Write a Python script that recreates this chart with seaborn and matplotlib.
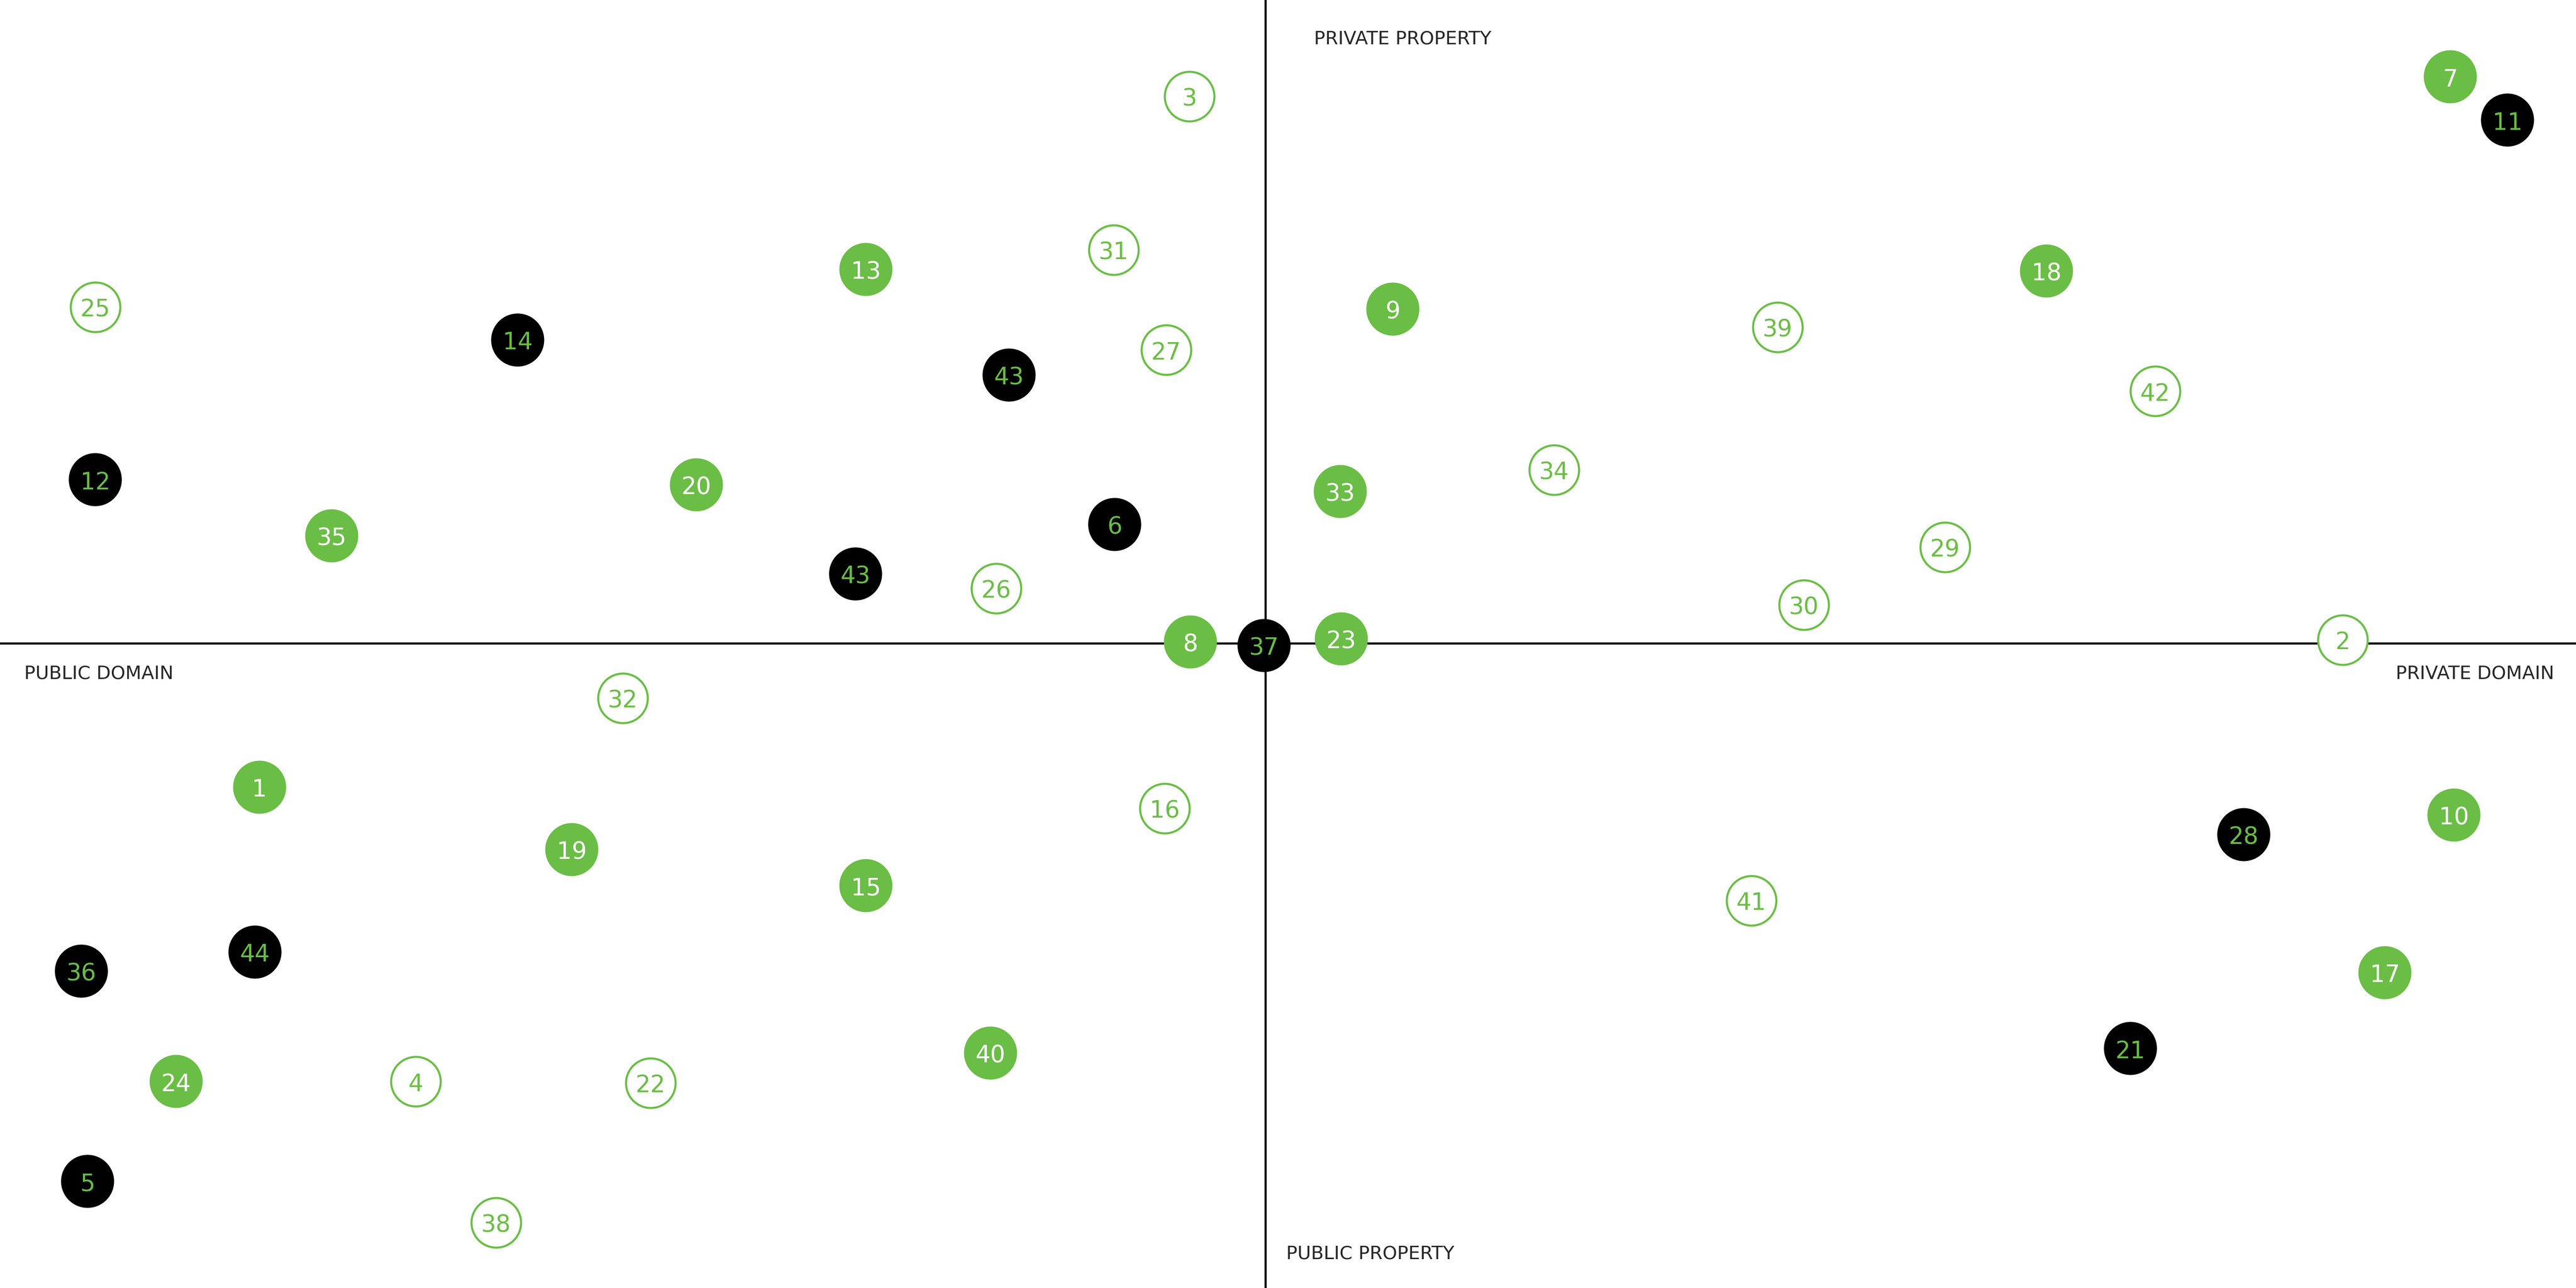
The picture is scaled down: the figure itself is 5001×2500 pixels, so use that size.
import pandas as pd
import seaborn as sns
from matplotlib import pyplot

# positions, origin at the crossing of the two axes
hollow_labels = ["3", "31", "27", "25", "26", "32", "16", "4", "22", "38",
                 "39", "42", "34", "29", "30", "2", "41"]
hollow_x = [-1.48, -2.95, -1.93, -22.72, -5.23, -12.48, -1.96, -16.50, -11.94, -14.94,
            9.94, 17.27, 5.60, 13.19, 10.45, 20.91, 9.43]
hollow_y = [10.62, 7.64, 5.70, 6.53, 1.07, -1.06, -3.20, -8.50, -8.53, -11.24,
            6.14, 4.90, 3.37, 1.87, 0.75, 0.07, -4.99]

green_labels = ["13", "20", "35", "8", "1", "19", "15", "24", "40",
                "9", "18", "33", "23", "7", "10", "17"]
green_x = [-7.76, -11.05, -18.13, -1.46, -19.53, -13.47, -7.76, -21.15, -5.34,
           2.47, 15.16, 1.45, 1.47, 23.00, 23.07, 21.73]
green_y = [7.26, 3.08, 2.09, 0.03, -2.79, -4.00, -4.70, -8.50, -7.95,
           6.49, 7.23, 2.95, 0.09, 11.00, -3.33, -6.39]

black_labels = ["14", "43", "12", "43", "6", "37", "36", "44", "5", "11", "28", "21"]
black_x = [-14.52, -4.98, -22.72, -7.96, -2.93, -0.03, -22.99, -19.62, -22.87,
           24.11, 18.99, 16.79]
black_y = [5.89, 5.21, 3.18, 1.35, 2.31, -0.04, -6.36, -5.99, -10.44,
           10.16, -3.71, -7.86]

axis_labels = ["PRIVATE PROPERTY", "PUBLIC PROPERTY", "PUBLIC DOMAIN", "PRIVATE DOMAIN"]

GREEN = "#6abd45"

sns.set_style("white")
pyplot.rcParams["font.family"] = ["DejaVu Sans"]

fig = pyplot.figure(figsize=(50.01, 25), dpi=100)
ax = fig.add_axes([0, 0, 1, 1])
ax.set_xlim(-24.57, 25.44)
ax.set_ylim(-12.51, 12.49)
ax.set_axis_off()

ax.axhline(0, color="black", linewidth=3, zorder=1)
ax.axvline(0, color="black", linewidth=3, zorder=1)

hollow = pd.DataFrame({"x": hollow_x, "y": hollow_y, "label": hollow_labels})
green = pd.DataFrame({"x": green_x, "y": green_y, "label": green_labels})
black = pd.DataFrame({"x": black_x, "y": black_y, "label": black_labels})

sns.scatterplot(data=hollow, x="x", y="y", ax=ax, s=4800, color="white",
                edgecolor=GREEN, linewidth=2.9, zorder=3, legend=False)
sns.scatterplot(data=green, x="x", y="y", ax=ax, s=5500, color=GREEN,
                edgecolor="none", linewidth=0, zorder=3, legend=False)
sns.scatterplot(data=black, x="x", y="y", ax=ax, s=5500, color="black",
                edgecolor="none", linewidth=0, zorder=3, legend=False)

for df, txt_color in [(hollow, GREEN), (green, "white"), (black, GREEN)]:
    for _, row in df.iterrows():
        ax.text(row["x"], row["y"] - 0.06, row["label"], color=txt_color,
                fontsize=33, ha="center", va="center", zorder=4)

ax.text(0.94, 11.74, axis_labels[0], fontsize=26, ha="left", va="center", zorder=4)
ax.text(0.40, -11.84, axis_labels[1], fontsize=26, ha="left", va="center", zorder=4)
ax.text(-24.10, -0.59, axis_labels[2], fontsize=26, ha="left", va="center", zorder=4)
ax.text(25.02, -0.59, axis_labels[3], fontsize=26, ha="right", va="center", zorder=4)

pyplot.savefig("out.png", dpi=100, facecolor="white")
